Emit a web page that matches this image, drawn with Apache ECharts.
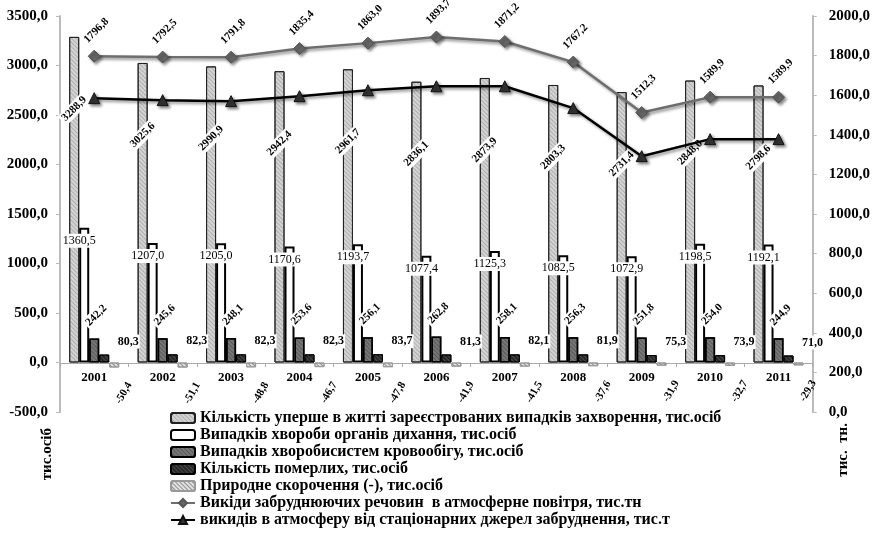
<!DOCTYPE html>
<html>
<head>
<meta charset="utf-8">
<script src="https://cdn.jsdelivr.net/npm/echarts@6/dist/echarts.min.js"></script>
<style>
  html, body { margin: 0; padding: 0; background: #fff; }
  #main { width: 873px; height: 545px; }
</style>
</head>
<body>
<div id="main"></div>
<script>
// 数据
var years = ['2001', '2002', '2003', '2004', '2005', '2006', '2007', '2008', '2009', '2010', '2011'];
var firstCases = [3288.9, 3025.6, 2990.9, 2942.4, 2961.7, 2836.1, 2873.9, 2803.3, 2731.4, 2848.0, 2798.6];
var respiratory = [1360.5, 1207.0, 1205.0, 1170.6, 1193.7, 1077.4, 1125.3, 1082.5, 1072.9, 1198.5, 1192.1];
var circulatory = [242.2, 245.6, 248.1, 253.6, 256.1, 262.8, 258.1, 256.3, 251.8, 254.0, 244.9];
var deaths = [80.3, 82.3, 82.3, 82.3, 83.7, 81.3, 82.1, 81.9, 75.3, 73.9, 71.0];
var natural = [-50.4, -51.1, -48.8, -46.7, -47.8, -41.9, -41.5, -37.6, -31.9, -32.7, -29.3];
var emissions = [1796.8, 1792.5, 1791.8, 1835.4, 1863.0, 1893.7, 1871.2, 1767.2, 1512.3, 1589.9, 1589.9];
var stationary = [1585, 1575, 1570, 1595, 1625, 1645, 1645, 1535, 1292, 1378, 1378];

var names = [
    'Кількість уперше в житті зареєстрованих випадків захворення, тис.осіб',
    'Випадків хвороби органів дихання, тис.осіб',
    'Випадків хворобисистем кровообігу, тис.осіб',
    'Кількість померлих, тис.осіб',
    'Природне скорочення (-), тис.осіб',
    'Викіди забруднюючих речовин  в атмосферне повітря, тис.тн',
    'викидів в атмосферу від стаціонарних джерел забруднення, тис.т'
];

var FONT = '"Liberation Serif", "DejaVu Serif", serif';
function fmt(v) { return Number(v).toFixed(1).replace('.', ','); }
function lbl(p) { return fmt(p.value); }

var hatch = function (c) {
    return { symbol: 'rect', symbolSize: 1, dashArrayX: [1, 0], dashArrayY: [1, 2], rotation: Math.PI / 4, color: c };
};
var shadow = { shadowBlur: 3, shadowColor: 'rgba(0,0,0,0.45)', shadowOffsetX: 2, shadowOffsetY: 2 };
var baseLabel = { show: true, fontFamily: FONT, fontWeight: 'bold', fontSize: 11, color: '#000', formatter: lbl };

var myChart = echarts.init(document.getElementById('main'));
var option = {
    animation: false,
    backgroundColor: '#fff',
    grid: { left: 60, right: 60, top: 16, bottom: 133 },
    legend: {
        orient: 'vertical',
        left: 165,
        top: 405,
        itemWidth: 24,
        itemHeight: 10,
        itemGap: 1,
        textStyle: { fontFamily: FONT, fontWeight: 'bold', fontSize: 16, lineHeight: 15, color: '#000' },
        data: names
    },
    // x轴放在左轴0值处（-500 到 0 相差 49px）
    xAxis: {
        type: 'category',
        data: years,
        position: 'bottom',
        offset: -49,
        axisLine: { onZero: false, lineStyle: { color: '#aaa', width: 1 } },
        axisTick: { show: true, lineStyle: { color: '#aaa' }, length: 4 },
        axisLabel: { fontFamily: FONT, fontWeight: 'bold', fontSize: 13, color: '#000', margin: 8 }
    },
    yAxis: [{
        type: 'value',
        min: -500, max: 3500, interval: 500,
        axisLine: { show: true, lineStyle: { color: '#bbb', width: 2 } },
        axisTick: { show: true, lineStyle: { color: '#bbb' }, length: 4 },
        splitLine: { show: false },
        axisLabel: { fontFamily: FONT, fontWeight: 'bold', fontSize: 15, color: '#000', margin: 12, formatter: fmt }
    }, {
        type: 'value',
        min: 0, max: 2000, interval: 200,
        position: 'right',
        axisLine: { show: true, lineStyle: { color: '#bbb', width: 2 } },
        axisTick: { show: true, lineStyle: { color: '#bbb' }, length: 4 },
        splitLine: { show: false },
        axisLabel: { fontFamily: FONT, fontWeight: 'bold', fontSize: 15, color: '#000', margin: 16, formatter: fmt }
    }],
    graphic: [
        { type: 'text', left: 40, top: 428, rotation: Math.PI / 2,
          style: { text: 'тис.осіб', font: 'bold 15px ' + FONT, fill: '#000' } },
        { type: 'text', left: 836, top: 423, rotation: Math.PI / 2,
          style: { text: 'тис.  тн.', font: 'bold 15px ' + FONT, fill: '#000' } }
    ],
    series: [{
        name: names[0], type: 'bar', data: firstCases, barWidth: 10, barGap: '0%',
        itemStyle: { color: '#d4d4d4', borderColor: '#222', borderWidth: 1, decal: hatch('rgba(150,150,150,0.6)') },
        label: Object.assign({}, baseLabel, { position: 'insideTop', distance: 72, rotate: 45,
            align: 'center', verticalAlign: 'middle', backgroundColor: '#fff', padding: [1, 2] })
    }, {
        name: names[1], type: 'bar', data: respiratory, barWidth: 10, barGap: '0%',
        itemStyle: { color: '#fff', borderColor: '#000', borderWidth: 2 },
        label: Object.assign({}, baseLabel, { position: 'insideTop', distance: 13, fontWeight: 'normal', fontSize: 12,
            align: 'center', verticalAlign: 'middle', offset: [-5, 0], backgroundColor: '#fff', padding: [1, 1] })
    }, {
        name: names[2], type: 'bar', data: circulatory, barWidth: 10, barGap: '0%',
        itemStyle: { color: '#777', borderColor: '#000', borderWidth: 1.5, decal: hatch('rgba(60,60,60,0.5)') },
        label: Object.assign({}, baseLabel, { position: 'top', distance: 21, rotate: 45,
            align: 'center', verticalAlign: 'middle', offset: [3, 0], backgroundColor: '#fff', padding: [1, 2] })
    }, {
        name: names[3], type: 'bar', data: deaths, barWidth: 10, barGap: '0%',
        itemStyle: { color: '#262626', borderColor: '#000', borderWidth: 1, decal: hatch('rgba(110,110,110,0.5)') },
        label: Object.assign({}, baseLabel, { position: 'top', distance: 13, fontSize: 12,
            align: 'center', verticalAlign: 'middle', offset: [24, 0], backgroundColor: '#fff', padding: [1, 1] })
    }, {
        name: names[4], type: 'bar', data: natural, barWidth: 10, barGap: '0%',
        itemStyle: { color: '#e2e2e2', borderColor: '#999', borderWidth: 1, decal: hatch('rgba(90,90,90,0.6)') },
        label: Object.assign({}, baseLabel, { position: 'outside', distance: 42, rotate: 60,
            align: 'center', verticalAlign: 'middle', offset: [19, 0] })
    }, {
        name: names[5], type: 'line', yAxisIndex: 1, data: emissions,
        symbol: 'diamond', symbolSize: 12,
        lineStyle: Object.assign({ color: '#6e6e6e', width: 2.5 }, shadow),
        itemStyle: Object.assign({ color: '#666', borderColor: '#555', borderWidth: 1 }, shadow),
        label: Object.assign({}, baseLabel, { position: 'top', distance: 17, rotate: 45,
            align: 'center', verticalAlign: 'middle', offset: [3, 0] })
    }, {
        name: names[6], type: 'line', yAxisIndex: 1, data: stationary,
        symbol: 'triangle', symbolSize: 11,
        lineStyle: Object.assign({ color: '#000', width: 2.5 }, shadow),
        itemStyle: Object.assign({ color: '#333', borderColor: '#111', borderWidth: 1 }, shadow),
        label: { show: false }
    }]
};
myChart.setOption(option);
</script>
</body>
</html>
